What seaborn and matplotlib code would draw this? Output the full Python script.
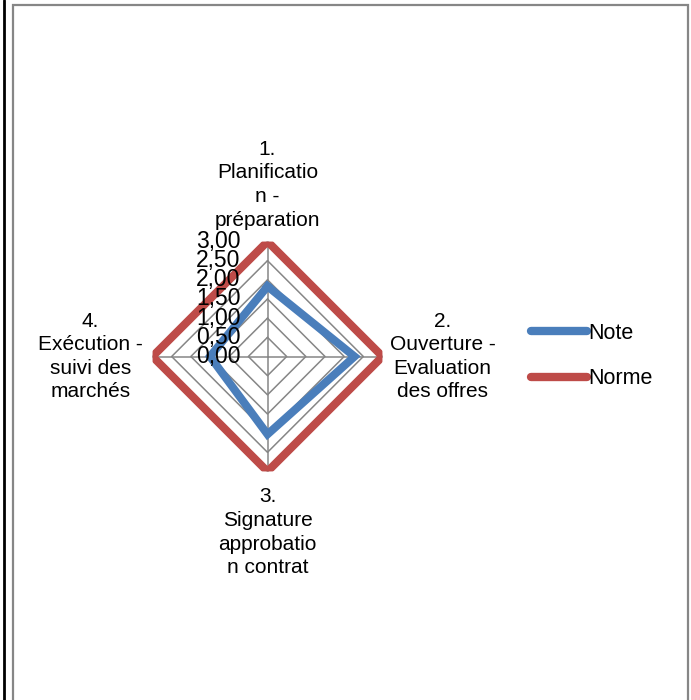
import numpy as np
import pandas as pd
import matplotlib
matplotlib.use("Agg")
import matplotlib.pyplot as plt
from matplotlib.patches import Rectangle
from matplotlib.lines import Line2D
import seaborn as sns

# Chart data
categories = [
    "1.\nPlanificatio\nn -\npréparation",
    "2.\nOuverture -\nEvaluation\ndes offres",
    "3.\nSignature\napprobatio\nn contrat",
    "4.\nExécution -\nsuivi des\nmarchés",
]
note_values = [1.83, 2.27, 2.03, 1.50]
norme_values = [3.00, 3.00, 3.00, 3.00]
series_names = ["Note", "Norme"]
radial_ticks = [0.0, 0.5, 1.0, 1.5, 2.0, 2.5, 3.0]
radial_labels = ["0,00", "0,50", "1,00", "1,50", "2,00", "2,50", "3,00"]

sns.set_theme(style="white")
plt.rcParams["font.family"] = ["Liberation Sans", "DejaVu Sans"]
plt.rcParams["text.color"] = "black"

BLUE = "#4A7EBB"
RED = "#BE4B48"
GRID = "#868686"

W, H = 691, 700
fig = plt.figure(figsize=(W / 100, H / 100), dpi=100)
fig.patch.set_facecolor("white")

# Outer frame
fig.add_artist(Rectangle((12.5 / W, -0.05), (688 - 12.5) / W, 1.05 - 5 / H,
                         transform=fig.transFigure, fill=False,
                         edgecolor=GRID, linewidth=1.6))
fig.add_artist(Line2D([4 / W, 4 / W], [0, 1], transform=fig.transFigure,
                      color="black", linewidth=2.0))

# Polar axes: centre at (267.5, 356.5) px, radius 115 px
cx, cy, R = 267.5, 356.5, 115.0
ax = fig.add_axes([(cx - R) / W, (H - cy - R) / H, 2 * R / W, 2 * R / H],
                  projection="polar")
ax.set_theta_zero_location("N")
ax.set_theta_direction(-1)
ax.set_ylim(0, 3.0)
ax.grid(False)
ax.spines["polar"].set_visible(False)
ax.set_xticks([])
ax.set_yticks([])
ax.set_facecolor("none")

n = len(categories)
theta = np.arange(n) * 2 * np.pi / n
theta_closed = np.append(theta, theta[0])

# Polygon grid rings and spokes
for lvl in radial_ticks[1:]:
    ax.plot(theta_closed, [lvl] * (n + 1), color=GRID, lw=1.1, zorder=1)
for t in theta:
    ax.plot([t, t], [0, radial_ticks[-1]], color=GRID, lw=1.1, zorder=1)

# Series lines (closed polygons)
df = pd.DataFrame({
    "theta": np.concatenate([theta_closed, theta_closed]),
    "value": note_values + note_values[:1] + norme_values + norme_values[:1],
    "serie": [series_names[0]] * (n + 1) + [series_names[1]] * (n + 1),
})
sns.lineplot(data=df, x="theta", y="value", hue="serie", sort=False,
             estimator=None, palette={"Note": BLUE, "Norme": RED},
             lw=5.8, ax=ax, legend=False, zorder=3)
for ln in ax.get_lines()[-2:]:
    ln.set_solid_joinstyle("miter")
    ln.set_solid_capstyle("projecting")
ax.set_xlabel("")
ax.set_ylabel("")
ax.set_ylim(0, 3.0)

# Radial value labels along the top spoke
for v, lab in zip(radial_ticks, radial_labels):
    ax.annotate(lab, xy=(0, v), xytext=(-27, 0), textcoords="offset pixels",
                ha="right", va="center", fontsize=16.5, color="black",
                zorder=5, annotation_clip=False)

# Category labels
fs = 15
ls = 1.3
ax.annotate(categories[0], xy=(theta[0], 3.0), xytext=(0, 12),
            textcoords="offset pixels", ha="center", va="bottom",
            multialignment="center", fontsize=fs, linespacing=ls,
            annotation_clip=False)
ax.annotate(categories[1], xy=(theta[1], 3.0), xytext=(7, 0),
            textcoords="offset pixels", ha="left", va="center",
            multialignment="center", fontsize=fs, linespacing=ls,
            annotation_clip=False)
ax.annotate(categories[2], xy=(theta[2], 3.0), xytext=(0, -16),
            textcoords="offset pixels", ha="center", va="top",
            multialignment="center", fontsize=fs, linespacing=ls,
            annotation_clip=False)
ax.annotate(categories[3], xy=(theta[3], 3.0), xytext=(-10, 0),
            textcoords="offset pixels", ha="right", va="center",
            multialignment="center", fontsize=fs, linespacing=ls,
            annotation_clip=False)

# Legend
handles = [Line2D([0], [0], color=BLUE, lw=6, solid_capstyle="round"),
           Line2D([0], [0], color=RED, lw=6, solid_capstyle="round")]
fig.legend(handles, series_names, loc="center left",
           bbox_to_anchor=(531 / W, 1 - 356 / H), frameon=False,
           fontsize=15.5, handlelength=2.6, handletextpad=0.05,
           labelspacing=1.15, borderpad=0, borderaxespad=0)

fig.savefig("out.png", dpi=100, facecolor="white")
